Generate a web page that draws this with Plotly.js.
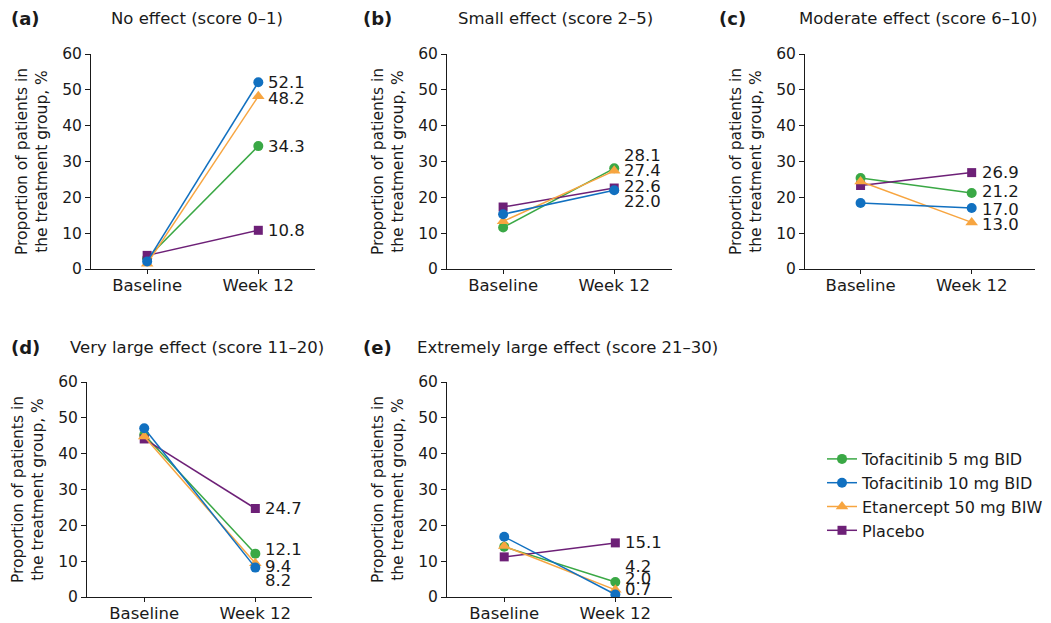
<!DOCTYPE html>
<html>
<head>
<meta charset="utf-8">
<script src="https://cdn.plot.ly/plotly-3.0.1.min.js"></script>
<style>html,body{margin:0;padding:0;background:#fff;}#chart{width:1051px;height:623px;}</style>
</head>
<body>
<div id="chart"></div>
<script>
// ---- data ----
var timepoints = ["Baseline", "Week 12"];
var seriesNames = ["Tofacitinib 5 mg BID", "Tofacitinib 10 mg BID", "Etanercept 50 mg BIW", "Placebo"];
var panelLetters = ["(a)", "(b)", "(c)", "(d)", "(e)"];
var panelTitles = ["No effect (score 0\u20131)", "Small effect (score 2\u20135)", "Moderate effect (score 6\u201310)",
                   "Very large effect (score 11\u201320)", "Extremely large effect (score 21\u201330)"];
// [baseline, week12] per panel a..e
var tofa5  = [[3.0, 34.3], [11.6, 28.1], [25.4, 21.2], [45.3, 12.1], [14.0, 4.2]];
var tofa10 = [[2.1, 52.1], [15.3, 22.0], [18.4, 17.0], [47.1, 8.2], [16.8, 0.7]];
var etan   = [[1.5, 48.2], [13.3, 27.4], [24.4, 13.0], [44.8, 9.4], [14.2, 2.0]];
var placebo= [[3.8, 10.8], [17.3, 22.6], [23.3, 26.9], [44.1, 24.7], [11.2, 15.1]];
var yTicks = [0, 10, 20, 30, 40, 50, 60];

// ---- styling / layout ----
var W = 1051, H = 623;
var colors = {t5: "#3aa845", t10: "#1170c0", et: "#f7a540", pl: "#6d2077"};
// pixel geometry of each panel: [left, right, top, bottom, xRangeLo, xRangeHi]
var geom = [
  [91, 315, 54, 269, -0.505, 1.51],
  [447, 672, 54, 269, -0.505, 1.52],
  [805, 1035, 54, 269, -0.50, 1.57],
  [87, 312, 382, 597, -0.515, 1.51],
  [447, 672, 382, 597, -0.515, 1.51]
];
// label vertical nudges (px) to avoid overlaps: order t5, t10, et, pl
var labelShift = [
  [0, 0, -2, 0],
  [13, -11, 0, 2],
  [2, -1, -2, 0],
  [4, -13, -3, 0],
  [15, 5, 11, 0]
];
var font = "DejaVu Sans, Liberation Sans, Arial, sans-serif";
var ink = "#1a1a1a";
var traces = [];
var layout = {
  width: W, height: H,
  margin: {l: 0, r: 0, t: 0, b: 0},
  paper_bgcolor: "#fff", plot_bgcolor: "#fff",
  font: {family: font, size: 15.5, color: ink},
  showlegend: true,
  legend: {x: 822 / W, y: 1 - 442 / H, xanchor: "left", yanchor: "top",
           font: {family: font, size: 16, color: ink}, tracegroupgap: 0,
           itemwidth: 30, bgcolor: "rgba(0,0,0,0)"},
  annotations: []
};
var defs = [
  {key: "t5", data: tofa5, name: seriesNames[0], sym: "circle", size: 10, rank: 1},
  {key: "t10", data: tofa10, name: seriesNames[1], sym: "circle", size: 10, rank: 2},
  {key: "et", data: etan, name: seriesNames[2], sym: "triangle-up", size: 11, rank: 3},
  {key: "pl", data: placebo, name: seriesNames[3], sym: "square", size: 9, rank: 4}
];
var drawOrder = [0, 3, 2, 1]; // green, purple, orange, blue (blue on top)

for (var p = 0; p < 5; p++) {
  var g = geom[p];
  var ax = p === 0 ? "" : String(p + 1);
  layout["xaxis" + ax] = {
    domain: [g[0] / W, g[1] / W], anchor: "y" + ax,
    type: "linear", range: [g[4], g[5]],
    tickvals: [0, 1], ticktext: timepoints,
    showline: true, linecolor: ink, linewidth: 1,
    ticks: "outside", ticklen: 4, tickcolor: ink, ticklabelstandoff: -3,
    showgrid: false, zeroline: false, fixedrange: true,
    tickfont: {family: font, size: 16.5, color: ink}
  };
  layout["yaxis" + ax] = {
    domain: [1 - g[3] / H, 1 - g[2] / H], anchor: "x" + ax,
    range: [0, 60], tickvals: yTicks,
    showline: true, linecolor: ink, linewidth: 1,
    ticks: "outside", ticklen: 5, tickcolor: ink,
    showgrid: false, zeroline: false, fixedrange: true,
    tickfont: {family: font, size: 15.5, color: ink},
    title: {text: "Proportion of patients in<br>the treatment group, %",
            font: {family: font, size: 15.5, color: ink}, standoff: 10}
  };
  for (var k = 0; k < drawOrder.length; k++) {
    var i = drawOrder[k];
    var d = defs[i];
    traces.push({
      type: "scatter", mode: "lines+markers",
      x: [0, 1], y: d.data[p],
      xaxis: "x" + ax, yaxis: "y" + ax,
      name: d.name, legendgroup: d.key, showlegend: p === 0, legendrank: d.rank,
      line: {color: colors[d.key], width: 1.5},
      marker: {color: colors[d.key], symbol: d.sym, size: d.size},
      hoverinfo: "skip"
    });
    layout.annotations.push({
      xref: "x" + ax, yref: "y" + ax, x: 1, y: d.data[p][1],
      text: d.data[p][1].toFixed(1), showarrow: false,
      xanchor: "left", yanchor: "middle", xshift: 8, yshift: labelShift[p][i],
      font: {family: font, size: 16.5, color: ink}
    });
  }
}
// panel letters and titles
var letterPos = [[9, 19], [361, 19], [717, 19], [9, 347], [361, 347]];
var titlePos = [[109, 19], [456, 19], [797, 19], [68, 347], [415, 347]];
for (var p = 0; p < 5; p++) {
  layout.annotations.push({
    xref: "paper", yref: "paper", x: letterPos[p][0] / W, y: 1 - letterPos[p][1] / H,
    text: "<b>" + panelLetters[p] + "</b>", showarrow: false, xanchor: "left", yanchor: "middle",
    font: {family: font, size: 18, color: ink}
  });
  layout.annotations.push({
    xref: "paper", yref: "paper", x: titlePos[p][0] / W, y: 1 - titlePos[p][1] / H,
    text: panelTitles[p], showarrow: false, xanchor: "left", yanchor: "middle",
    font: {family: font, size: 16.5, color: ink}
  });
}
Plotly.newPlot("chart", traces, layout, {displayModeBar: false, staticPlot: true});
</script>
</body>
</html>
